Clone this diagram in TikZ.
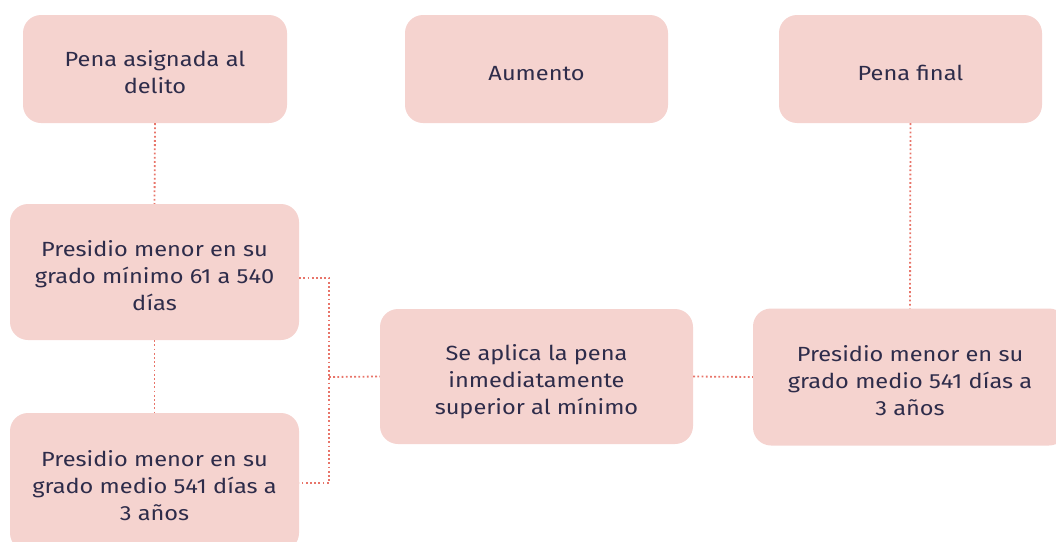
\documentclass[tikz,border=0pt]{standalone}
\usepackage{fontspec}
\setmainfont{Fira Sans}[FakeStretch=1.15]
\definecolor{boxfill}{HTML}{F5D3CF}
\definecolor{txt}{HTML}{2E2C4A}
\definecolor{lnk}{HTML}{E8756A}
\newcommand{\boxtext}[1]{\raisebox{-11pt}[0pt][0pt]{\begin{tabular}{@{}c@{}}#1\end{tabular}}}
\begin{document}
\begin{tikzpicture}[x=1pt,y=-1pt,
  pbox/.style={fill=boxfill,draw=none,rounded corners=18pt,text=txt,
    font=\fontsize{20.5}{27}\selectfont,inner sep=0pt},
  link/.style={draw=lnk,line width=1.8pt,dash pattern=on 1.8pt off 2.4pt}]
\useasboundingbox (0,0) rectangle (1056,541);
\begin{scope}
\clip (0,0) rectangle (1056,541);
\node[pbox,minimum width=264pt,minimum height=108pt] (A) at (155,69) {\boxtext{Pena asignada al\\delito}};
\node[pbox,minimum width=263pt,minimum height=108pt] (B) at (536.5,69) {\boxtext{Aumento}};
\node[pbox,minimum width=263pt,minimum height=108pt] (C) at (910.5,69) {\boxtext{Pena final}};
\node[pbox,minimum width=289pt,minimum height=136pt] (D) at (154.5,272) {\boxtext{Presidio menor en su\\grado mínimo 61 a 540\\días}};
\node[pbox,minimum width=289pt,minimum height=138pt] (E) at (154.5,482) {\boxtext{Presidio menor en su\\grado medio 541 días a\\3 años}};
\node[pbox,minimum width=313pt,minimum height=135pt] (F) at (536.5,376.5) {\boxtext{Se aplica la pena\\inmediatamente\\superior al mínimo}};
\node[pbox,minimum width=314pt,minimum height=137pt] (G) at (910,377) {\boxtext{Presidio menor en su\\grado medio 541 días a\\3 años}};
\end{scope}
\coordinate (J1) at (329,278);
\coordinate (J2) at (329,483);
\coordinate (J3) at (329,377);
\draw[link] (A.south) -- (D.north);
\draw[link] (D.south) -- (E.north);
\draw[link] (D.east |- J1) -- (J1) -- (J2) -- (E.east |- J2);
\draw[link] (J3) -- (F.west);
\draw[link] (F.east) -- (G.west);
\draw[link] (C.south) -- (G.north);
\end{tikzpicture}
\end{document}
